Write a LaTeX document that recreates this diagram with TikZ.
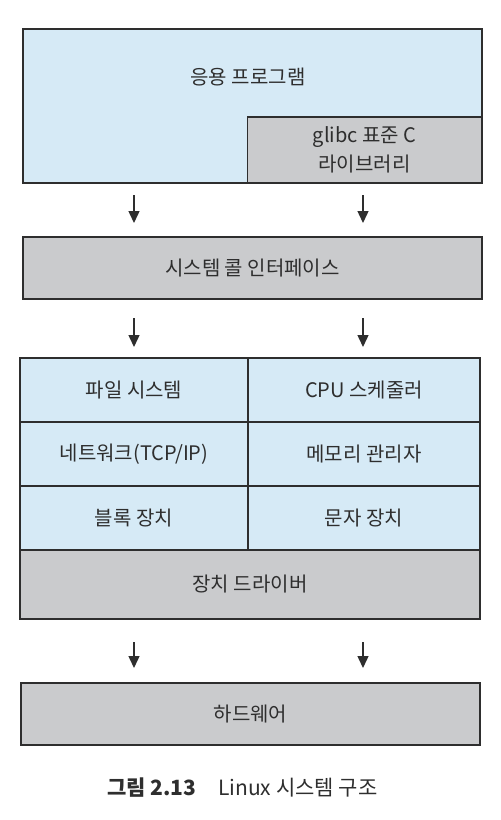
\documentclass[tikz,border=0pt]{standalone}
\usepackage{fontspec}
\setmainfont{Noto Sans CJK KR}
\usetikzlibrary{arrows.meta,calc}
\definecolor{lblue}{HTML}{D6EAF6}
\definecolor{lgray}{HTML}{CACBCD}
\definecolor{ink}{HTML}{2E2E2E}
\tikzset{
  txt/.style={text=ink, font=\fontsize{20}{29}\selectfont, align=center},
  box/.style={draw=ink, line width=1.4pt, inner sep=0pt, outer sep=0pt, txt},
  bluebox/.style={box, fill=lblue},
  graybox/.style={box, fill=lgray},
  arr/.style={draw=ink, line width=1.4pt, -{Triangle[length=12pt,width=11pt]}},
}
\begin{document}
\begin{tikzpicture}[x=1pt,y=-1pt]
\useasboundingbox (0,0) rectangle (501,820);
% application
\node[bluebox, minimum width=459pt, minimum height=154pt] (app) at (252.5,106) {};
\node[txt] (apptext) at (248,77) {응용 프로그램};
\node[graybox, minimum width=234pt, minimum height=66pt] (glibc) at (364.5,150) {glibc 표준 C\\라이브러리};
% system call interface
\node[graybox, minimum width=459pt, minimum height=62pt] (sci) at (252.5,268) {시스템 콜 인터페이스};
% kernel
\node[bluebox, minimum width=228pt, minimum height=64pt] (fs) at (134,390) {파일 시스템};
\node[bluebox, minimum width=232pt, minimum height=64pt] (cpu) at (364,390) {CPU 스케줄러};
\node[bluebox, minimum width=228pt, minimum height=64pt] (net) at (134,454) {네트워크(TCP/IP)};
\node[bluebox, minimum width=232pt, minimum height=64pt] (mem) at (364,454) {메모리 관리자};
\node[bluebox, minimum width=228pt, minimum height=64pt] (blk) at (134,518) {블록 장치};
\node[bluebox, minimum width=232pt, minimum height=64pt] (chr) at (364,518) {문자 장치};
\node[graybox, minimum width=460pt, minimum height=69pt] (drv) at (250,584.5) {장치 드라이버};
% hardware
\node[graybox, minimum width=459pt, minimum height=62pt] (hw) at (250.5,714) {하드웨어};
% arrows
\coordinate (la) at (134,0);
\coordinate (ra) at (363,0);
\draw[arr, shorten <=12pt, shorten >=14pt] (app.south -| la) -- (sci.north -| la);
\draw[arr, shorten <=12pt, shorten >=14pt] (app.south -| ra) -- (sci.north -| ra);
\draw[arr, shorten <=19pt, shorten >=11pt] (sci.south -| la) -- (fs.north -| la);
\draw[arr, shorten <=19pt, shorten >=11pt] (sci.south -| ra) -- (cpu.north -| ra);
\draw[arr, shorten <=23pt, shorten >=15pt] (drv.south -| la) -- (hw.north -| la);
\draw[arr, shorten <=23pt, shorten >=15pt] (drv.south -| ra) -- (hw.north -| ra);
% caption
\node[text=ink, font=\fontsize{21}{26}\selectfont\bfseries, anchor=west, inner sep=0pt] (cap1) at (107,788) {그림 2.13};
\node[text=ink, font=\fontsize{21}{26}\selectfont, anchor=west, inner sep=0pt] (cap2) at (218,788) {Linux 시스템 구조};
\end{tikzpicture}
\end{document}
